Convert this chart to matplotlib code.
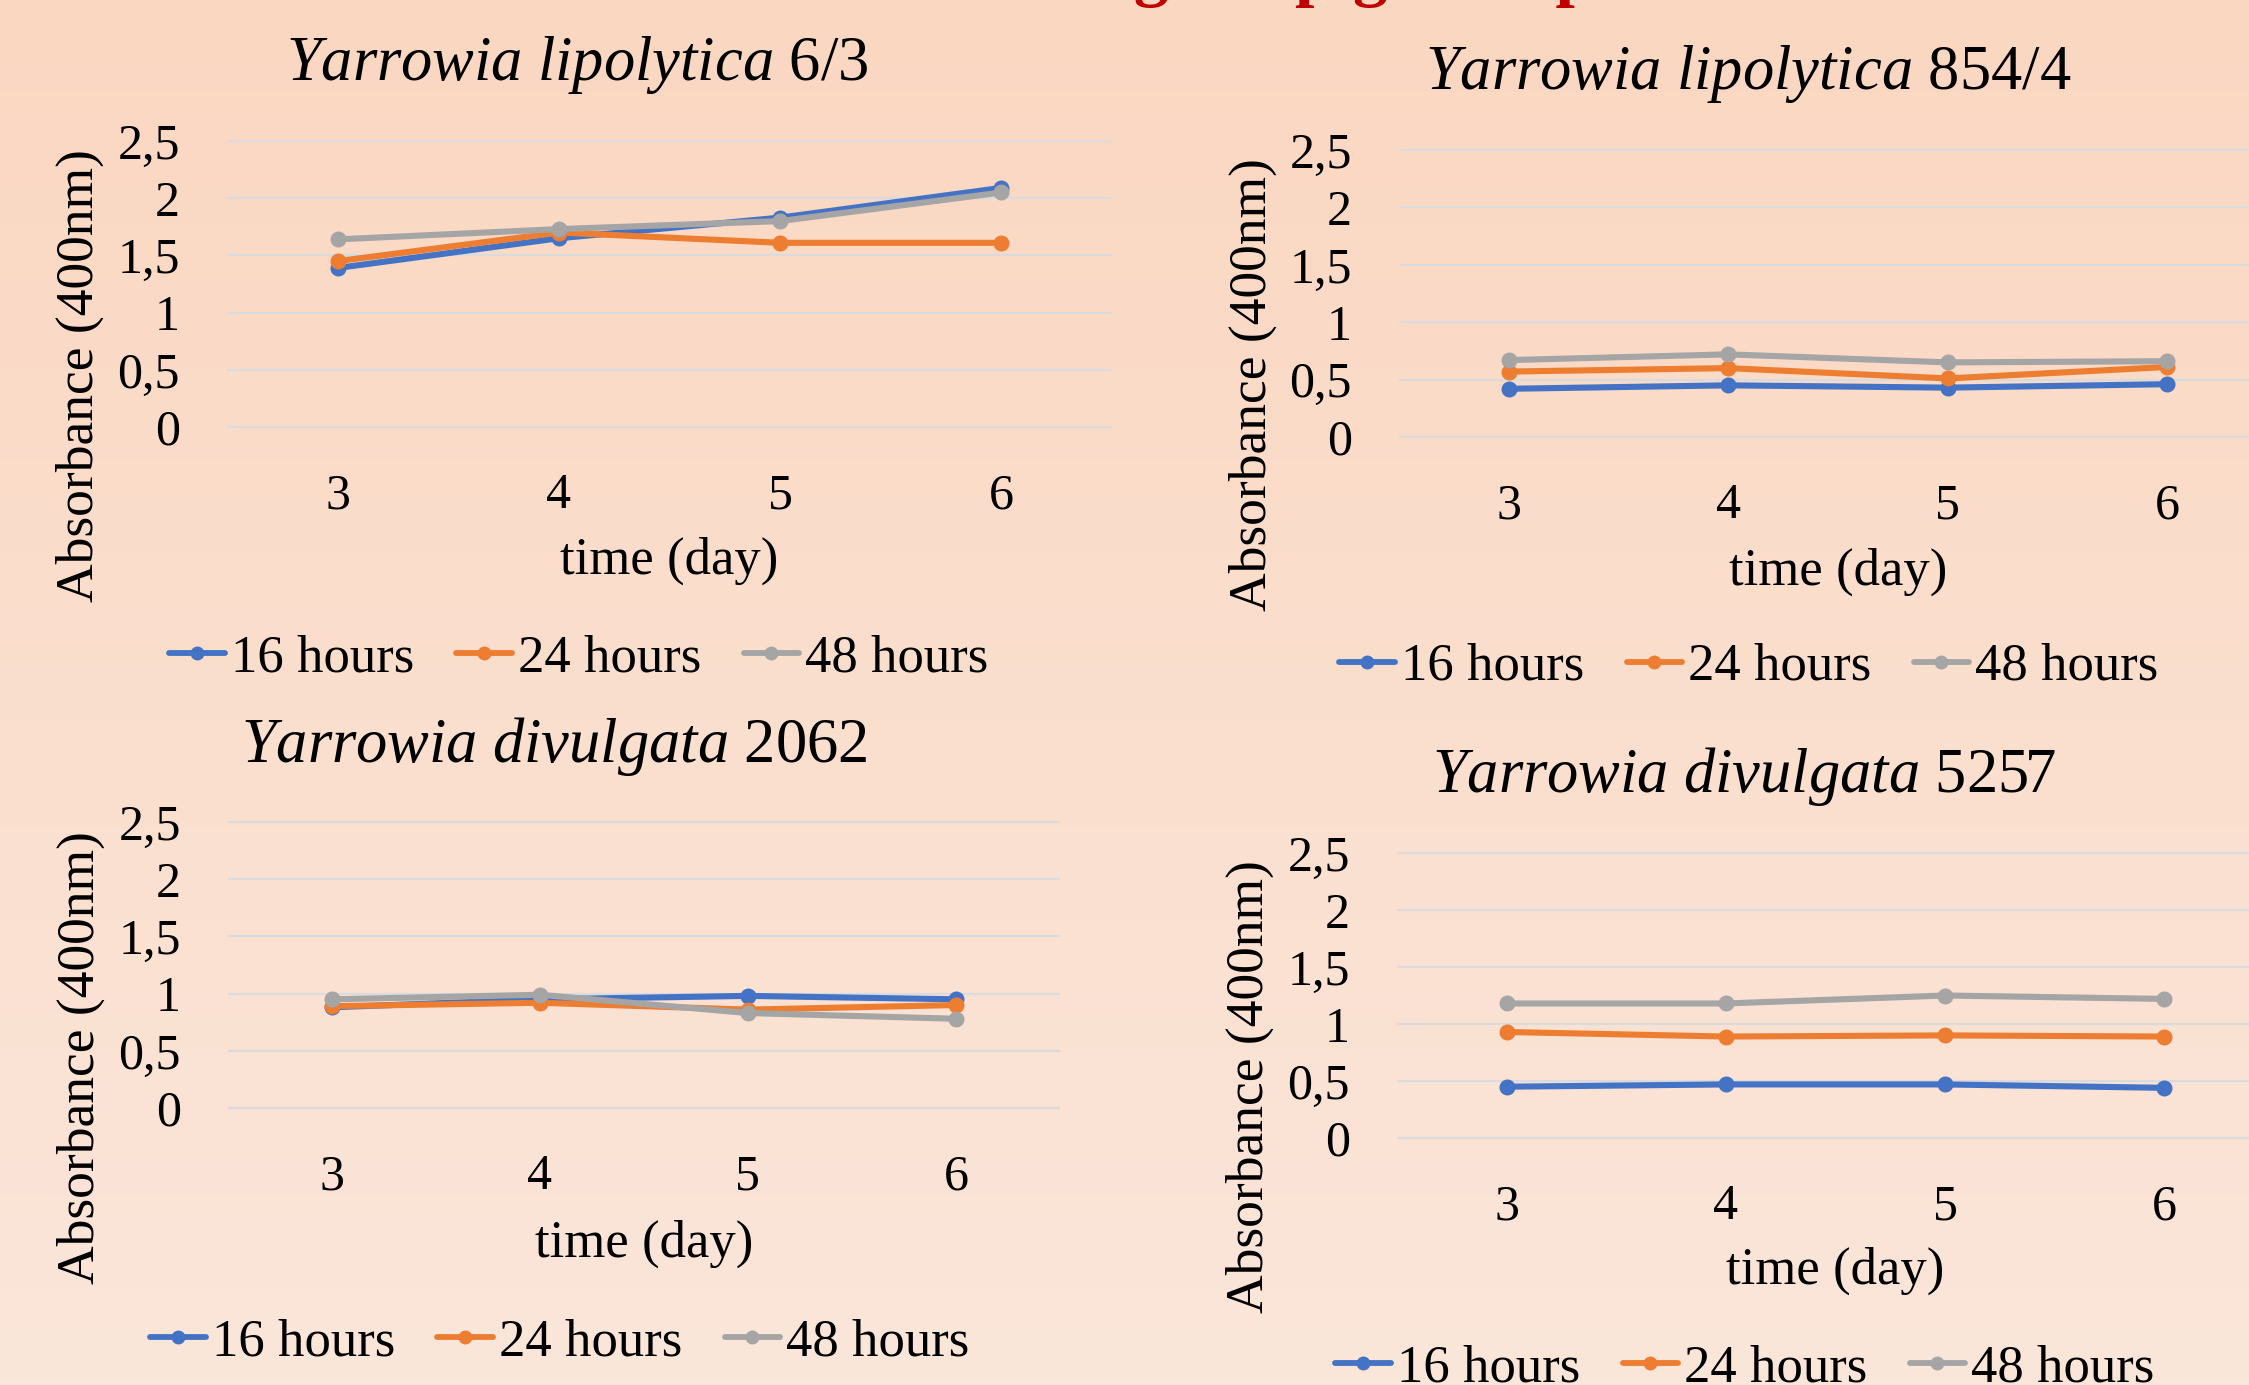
import numpy as np
import matplotlib.pyplot as plt
from matplotlib.colors import LinearSegmentedColormap
from matplotlib.lines import Line2D

plt.rcParams['font.family'] = ['Liberation Serif', 'DejaVu Serif']
plt.rcParams['mathtext.fontset'] = 'custom'
plt.rcParams['mathtext.it'] = 'Liberation Serif:italic'
plt.rcParams['mathtext.rm'] = 'Liberation Serif'

W, H = 2249, 1385

# data
days = [3, 4, 5, 6]
series_names = ['16 hours', '24 hours', '48 hours']
colors = ['#4472C4', '#ED7D31', '#A5A5A5']
yticks = [0, 0.5, 1, 1.5, 2, 2.5]
ytick_labels = ['0', '0,5', '1', '1,5', '2', '2,5']

lipo_6_3 = [[1.39, 1.65, 1.83, 2.09],
            [1.45, 1.70, 1.61, 1.61],
            [1.64, 1.73, 1.80, 2.05]]
lipo_854_4 = [[0.42, 0.45, 0.43, 0.46],
              [0.57, 0.60, 0.51, 0.61],
              [0.67, 0.72, 0.65, 0.66]]
divu_2062 = [[0.88, 0.95, 0.98, 0.95],
             [0.89, 0.92, 0.86, 0.90],
             [0.95, 0.99, 0.83, 0.78]]
divu_5257 = [[0.45, 0.47, 0.47, 0.44],
             [0.93, 0.89, 0.90, 0.89],
             [1.18, 1.18, 1.25, 1.22]]


def fx(x):
    return x / W


def fy(y):
    return 1 - y / H


fig = plt.figure(figsize=(W / 100, H / 100), dpi=100)

# peach background, slightly lighter towards the bottom
bg = fig.add_axes([0, 0, 1, 1], zorder=-10)
cmap = LinearSegmentedColormap.from_list('peach', ['#FAD7C1', '#FBE6DA'])
bg.imshow(np.linspace(0, 1, 256).reshape(-1, 1), aspect='auto', cmap=cmap,
          extent=[0, 1, 0, 1])
bg.axis('off')

# page heading, only its lower part fits on the page
head_kw = dict(fontsize=50, fontweight='bold', color='#C00000', va='baseline')
fig.text(fx(1278), fy(-7), 'Monitoring the', ha='right', **head_kw)
fig.text(fx(1295), fy(-7), 'pigment production', ha='left', **head_kw)

# plot box (left, top, right, bottom), title, xlabel, ylabel, legend in px
panels = [
    dict(data=lipo_6_3, box=(227, 141, 1112, 427),
         title=r'$\mathit{Yarrowia\ lipolytica}$ 6/3', title_xy=(577, 80),
         xlab_xy=(669, 574), ylab_xy=(80, 376), leg_xy=(579, 658)),
    dict(data=lipo_854_4, box=(1399, 150, 2277, 437),
         title=r'$\mathit{Yarrowia\ lipolytica}$ 854/4', title_xy=(1748, 89),
         xlab_xy=(1838, 585), ylab_xy=(1253, 385), leg_xy=(1749, 667)),
    dict(data=divu_2062, box=(228, 822, 1060, 1108),
         title=r'$\mathit{Yarrowia\ divulgata}$ 2062', title_xy=(554, 762),
         xlab_xy=(644, 1257), ylab_xy=(81, 1058), leg_xy=(560, 1342)),
    dict(data=divu_5257, box=(1397, 853, 2274, 1138),
         title=r'$\mathit{Yarrowia\ divulgata}$ 5257', title_xy=(1744, 792),
         xlab_xy=(1835, 1284), ylab_xy=(1250, 1087), leg_xy=(1745, 1368)),
]

for p in panels:
    l, t, r, b = p['box']
    ax = fig.add_axes([fx(l), fy(b), (r - l) / W, (b - t) / H])
    ax.set_facecolor('none')
    ax.set_xlim(2.5, 6.5)
    ax.set_ylim(0, 2.5)
    ax.hlines(yticks, 2.5, 6.5, color='#D9DBDE', lw=1.6, clip_on=False, zorder=1)

    for vals, name, c in zip(p['data'], series_names, colors):
        ax.plot(days, vals, color=c, lw=4.4, marker='o', ms=10.5, label=name,
                solid_capstyle='round', solid_joinstyle='round',
                clip_on=False, zorder=3)

    ax.set_xticks(days)
    ax.set_yticks(yticks)
    ax.set_yticklabels(ytick_labels)
    ax.tick_params(axis='x', length=0, pad=33, labelsize=36)
    ax.tick_params(axis='y', length=0, pad=34, labelsize=36)
    for s in ax.spines.values():
        s.set_visible(False)

    fig.text(fx(p['title_xy'][0]), fy(p['title_xy'][1]), p['title'],
             ha='center', va='baseline', fontsize=45)
    fig.text(fx(p['xlab_xy'][0]), fy(p['xlab_xy'][1]), 'time (day)',
             ha='center', va='baseline', fontsize=38)
    fig.text(fx(p['ylab_xy'][0]), fy(p['ylab_xy'][1]), 'Absorbance (400nm)',
             ha='center', va='center', rotation=90, fontsize=38.5)

    handles = [Line2D([], [], color=c, lw=4.2, marker='o', ms=9,
                      solid_capstyle='round') for c in colors]
    ax.legend(handles, series_names, loc='center',
              bbox_to_anchor=(fx(p['leg_xy'][0]), fy(p['leg_xy'][1])),
              bbox_transform=fig.transFigure, ncol=3, frameon=False,
              fontsize=38, handlelength=1.05, handletextpad=0.12,
              columnspacing=0.8, borderpad=0, borderaxespad=0)

fig.savefig('out.png', dpi=100)
